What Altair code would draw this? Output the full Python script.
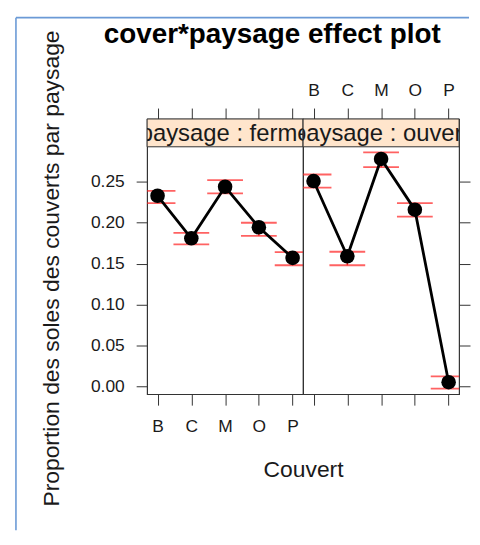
import altair as alt
import pandas as pd

# ---- data ----
covers = ["B", "C", "M", "O", "P"]
panel_labels = ["paysage : ferme", "paysage : ouvert"]

ferme_fit = [0.233, 0.181, 0.244, 0.1945, 0.157]
ferme_lower = [0.224, 0.1735, 0.236, 0.184, 0.148]
ferme_upper = [0.239, 0.1876, 0.252, 0.200, 0.164]

ouvert_fit = [0.251, 0.159, 0.278, 0.216, 0.005]
ouvert_lower = [0.243, 0.148, 0.268, 0.2075, -0.003]
ouvert_upper = [0.259, 0.1645, 0.286, 0.224, 0.012]

y_ticks = [0.0, 0.05, 0.10, 0.15, 0.20, 0.25]

# ---- layout constants ----
FONT = "Liberation Sans"
W, H = 157, 277
Y_MIN, Y_MAX = -0.0097, 0.3269
STRIP_LO = 0.2929
STRIP_MID = (STRIP_LO + Y_MAX) / 2
INK = "#1a1a1a"
BORDER = "#333333"

xs = alt.Scale(type="point", domain=covers, padding=0.31)
ys = alt.Scale(domain=[Y_MIN, Y_MAX], nice=False, zero=False)

axis_common = dict(domain=False, grid=False, ticks=True, tickSize=11,
                   tickColor=BORDER, tickWidth=1, labelFont=FONT,
                   labelFontSize=17.5, labelColor=INK)


def panel(fit, lower, upper, label, left):
    df = pd.DataFrame({"cover": covers, "fit": fit, "lower": lower, "upper": upper})
    base = alt.Chart(df)

    x_bottom = alt.Axis(orient="bottom", labels=left, labelPadding=13,
                        title="Couvert" if left else None,
                        titleFont=FONT, titleFontSize=23, titleFontWeight="normal",
                        titleColor=INK, titleX=W, titleY=83, titleAlign="center",
                        titleBaseline="alphabetic", labelAngle=0, **axis_common)
    x_top = alt.Axis(orient="top", labels=not left, labelPadding=9, title=None,
                     labelAngle=0, **axis_common)
    if left:
        y_axis = alt.Axis(orient="left", values=y_ticks, format=".2f", labelPadding=12,
                          title="Proportion des soles des couverts par paysage",
                          titleFont=FONT, titleFontSize=23, titleFontWeight="normal",
                          titleColor=INK, titleAngle=-90, titleX=-89, titleY=150,
                          titleAlign="center", titleBaseline="alphabetic",
                          **axis_common)
    else:
        y_axis = alt.Axis(orient="right", values=y_ticks, labels=False, title=None,
                          **axis_common)

    strip = alt.Chart(pd.DataFrame({"lo": [STRIP_LO], "hi": [Y_MAX]})).mark_rect(
        fill="#FFE5CC", stroke=BORDER, strokeWidth=1
    ).encode(
        x=alt.value(0), x2=alt.value(W),
        y=alt.Y("lo:Q", scale=ys, axis=None), y2="hi:Q",
    )
    strip_text = alt.Chart(pd.DataFrame({"t": [label], "m": [STRIP_MID]})).mark_text(
        clip=True, font=FONT, fontSize=24, color=INK, baseline="middle", dy=1
    ).encode(
        x=alt.value(W / 2), y=alt.Y("m:Q", scale=ys, axis=None), text="t:N"
    )

    err = base.mark_rule(color="#FF2020", strokeWidth=1.5).encode(
        x=alt.X("cover:N", scale=xs, axis=None),
        y=alt.Y("lower:Q", scale=ys, axis=None), y2="upper:Q",
    )
    cap_hi = base.mark_tick(color="#FF2020", size=36, thickness=1.8,
                            orient="horizontal", clip=True).encode(
        x=alt.X("cover:N", scale=xs, axis=None),
        y=alt.Y("upper:Q", scale=ys, axis=None),
    )
    cap_lo = base.mark_tick(color="#FF2020", size=36, thickness=1.8,
                            orient="horizontal", clip=True).encode(
        x=alt.X("cover:N", scale=xs, axis=None),
        y=alt.Y("lower:Q", scale=ys, axis=None),
    )
    line = base.mark_line(color="black", strokeWidth=2.8).encode(
        x=alt.X("cover:N", scale=xs, axis=x_bottom, sort=covers),
        y=alt.Y("fit:Q", scale=ys, axis=None),
    )
    pts = base.mark_circle(size=215, color="black", opacity=1).encode(
        x=alt.X("cover:N", scale=xs, axis=x_top),
        y=alt.Y("fit:Q", scale=ys, axis=y_axis),
    )

    layers = [strip, strip_text, err, cap_hi, cap_lo, line, pts]
    if left:
        one = pd.DataFrame({"a": [0]})
        frame_v = alt.Chart(one).mark_rule(color="#6B9AD6", strokeWidth=1.6).encode(
            x=alt.value(-132), y=alt.value(-102), y2=alt.value(414))
        frame_h = alt.Chart(one).mark_rule(color="#6B9AD6", strokeWidth=1.6).encode(
            x=alt.value(-132), x2=alt.value(324), y=alt.value(-102))
        layers = [frame_v, frame_h] + layers

    return alt.layer(*layers).resolve_axis(x="independent", y="independent").properties(
        width=W, height=H)


left_panel = panel(ferme_fit, ferme_lower, ferme_upper, panel_labels[0], True)
right_panel = panel(ouvert_fit, ouvert_lower, ouvert_upper, panel_labels[1], False)

chart = alt.hconcat(left_panel, right_panel, spacing=0, bounds="flush").properties(
    title=alt.TitleParams(
        "cover*paysage effect plot", font=FONT, fontSize=28, fontWeight="bold",
        color="black", anchor="middle", frame="group", dx=126,
        baseline="alphabetic", offset=0, dy=55,
    ),
    padding={"left": 6, "top": 6, "right": 0, "bottom": 0},
).configure_view(stroke=BORDER, strokeWidth=1.2)

chart.save("out.html", embed_options={"renderer": "svg", "actions": False})
